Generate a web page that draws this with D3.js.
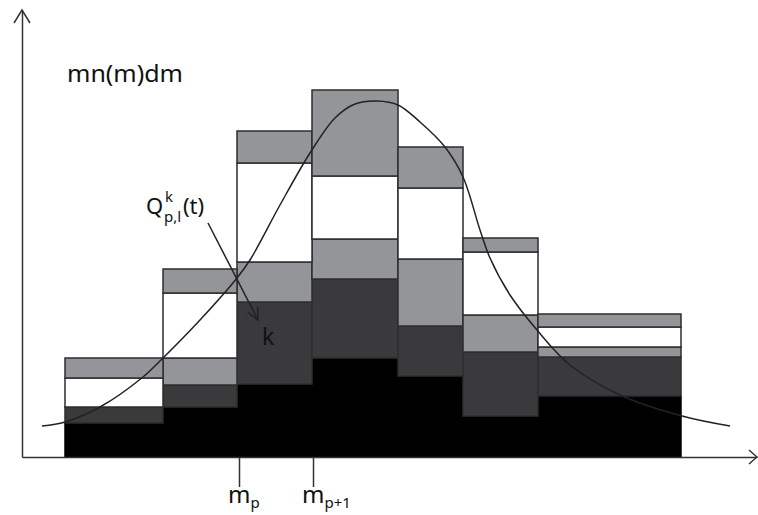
<!DOCTYPE html>
<html>
<head>
<meta charset="utf-8">
<script src="https://cdn.jsdelivr.net/npm/d3@7"></script>
<style>
  html, body { margin: 0; padding: 0; background: #fff; }
  svg { display: block; }
  text { font-family: "Noto Sans", "Open Sans", sans-serif; fill: #111; }
</style>
</head>
<body>
<svg id="chart" width="758" height="515"></svg>
<script>
// ---- data (mass bins and stacked layers, arbitrary units) ----
const binEdges   = [0.43, 1.41, 2.15, 2.90, 3.76, 4.41, 5.16, 6.59];
const layerKeys  = ["black", "dark", "light", "white", "gray"];
const blackVals  = [0.34, 0.50, 0.73, 0.99, 0.81, 0.41, 0.61];
const darkVals   = [0.16, 0.22, 0.82, 0.79, 0.50, 0.64, 0.39];
const lightVals  = [0.00, 0.27, 0.40, 0.40, 0.67, 0.37, 0.10];
const whiteVals  = [0.29, 0.65, 0.99, 0.63, 0.71, 0.63, 0.20];
const grayVals   = [0.20, 0.24, 0.32, 0.86, 0.41, 0.14, 0.13];
const curveM     = [0.20, 0.43, 0.78, 1.21, 1.41, 1.78, 2.15, 2.28, 2.58, 2.88, 3.13, 3.33, 3.55, 3.76, 3.98, 4.23, 4.41, 4.58, 4.68, 4.88, 5.15, 5.48, 5.98, 6.60, 7.08];
const curveV     = [0.31, 0.35, 0.50, 0.80, 0.99, 1.37, 1.79, 1.97, 2.52, 3.04, 3.39, 3.53, 3.56, 3.52, 3.35, 3.10, 2.80, 2.27, 1.99, 1.62, 1.27, 0.92, 0.62, 0.41, 0.31];
const tickValues = [2.17, 2.91];
const tickLabels = [["m", "p"], ["m", "p+1"]];
const yLabel     = "mn(m)dm";

// ---- style ----
const colors = { black: "#000000", dark: "#3a3a3c", light: "#939598", white: "#ffffff", gray: "#939598" };
const stroke = "#2e2e2e";

const svg = d3.select("#chart");
const x = d3.scaleLinear().domain([0, 7.35]).range([22, 757]);
const y = d3.scaleLinear().domain([0, 4.47]).range([457, 10]);

// rows for stack
const rows = blackVals.map((_, i) => ({
  x0: binEdges[i], x1: binEdges[i + 1],
  black: blackVals[i], dark: darkVals[i], light: lightVals[i], white: whiteVals[i], gray: grayVals[i]
}));
const series = d3.stack().keys(layerKeys)(rows);

const gBars = svg.append("g");
series.forEach(s => {
  gBars.selectAll(null).data(s.filter(d => d[1] - d[0] > 0)).enter().append("rect")
    .attr("x", d => x(d.data.x0))
    .attr("width", d => x(d.data.x1) - x(d.data.x0))
    .attr("y", d => y(d[1]))
    .attr("height", d => y(d[0]) - y(d[1]))
    .attr("fill", colors[s.key])
    .attr("stroke", s.key === "black" ? "#000" : stroke)
    .attr("stroke-width", 1.5);
});

// curve
const curvePts = curveM.map((m, i) => [m, curveV[i]]);
svg.append("path")
  .datum(curvePts)
  .attr("d", d3.line().x(d => x(d[0])).y(d => y(d[1])).curve(d3.curveCatmullRom.alpha(0.5)))
  .attr("fill", "none")
  .attr("stroke", "#222")
  .attr("stroke-width", 1.5);

// axes
const axisColor = "#333";
const xAxis = svg.append("g").attr("transform", `translate(0,${y(0)})`)
  .call(d3.axisBottom(x).tickValues(tickValues).tickSize(30).tickSizeOuter(0).tickFormat(""));
const yAxis = svg.append("g").attr("transform", `translate(${x(0)},0)`)
  .call(d3.axisLeft(y).tickValues([]).tickSizeOuter(0));
[xAxis, yAxis].forEach(g => {
  g.select(".domain").attr("stroke", axisColor).attr("stroke-width", 1.5);
  g.selectAll(".tick line").attr("stroke", axisColor).attr("stroke-width", 1.5);
});

// arrowheads on axes
const yTop = y.range()[1], xEnd = x.range()[1], x0 = x(0), y0 = y(0);
svg.append("path").attr("d", `M${x0 - 8},${yTop + 13}L${x0},${yTop}L${x0 + 8},${yTop + 13}`)
  .attr("fill", "none").attr("stroke", axisColor).attr("stroke-width", 1.5);
svg.append("path").attr("d", `M${xEnd - 8},${y0 - 7}L${xEnd},${y0}L${xEnd - 8},${y0 + 7}`)
  .attr("fill", "none").attr("stroke", axisColor).attr("stroke-width", 1.5);

// tick labels with subscripts
tickValues.forEach((v, i) => {
  const t = svg.append("text").attr("x", x(v) - 11).attr("y", 503).attr("font-size", 24);
  t.append("tspan").text(tickLabels[i][0]);
  t.append("tspan").attr("font-size", 15).attr("dy", 5).text(tickLabels[i][1]);
});

// y label
svg.append("text").attr("x", 67).attr("y", 82).attr("font-size", 24)
  .attr("textLength", 116).attr("lengthAdjust", "spacingAndGlyphs").text(yLabel);

// Q annotation (separate pieces: main, superscript, subscript)
svg.append("text").attr("x", 146).attr("y", 214).attr("font-size", 22).text("Q");
svg.append("text").attr("x", 165).attr("y", 202).attr("font-size", 15).text("k");
svg.append("text").attr("x", 164).attr("y", 222).attr("font-size", 15).text("p,l");
svg.append("text").attr("x", 183).attr("y", 214).attr("font-size", 22).text("(t)");

// annotation arrow (in data units)
const aStart = [1.86, 2.34], aEnd = [2.36, 1.37];
const sx = x(aStart[0]), sy = y(aStart[1]), ex = x(aEnd[0]), ey = y(aEnd[1]);
svg.append("line").attr("x1", sx).attr("y1", sy).attr("x2", ex).attr("y2", ey)
  .attr("stroke", "#222").attr("stroke-width", 1.5);
const ang = Math.atan2(ey - sy, ex - sx), hl = 13, ha = 0.45;
svg.append("path")
  .attr("d", `M${ex - hl * Math.cos(ang - ha)},${ey - hl * Math.sin(ang - ha)}L${ex},${ey}L${ex - hl * Math.cos(ang + ha)},${ey - hl * Math.sin(ang + ha)}`)
  .attr("fill", "none").attr("stroke", "#222").attr("stroke-width", 1.5);

svg.append("text").attr("x", 262).attr("y", 345).attr("font-size", 23).text("k");
</script>
</body>
</html>
